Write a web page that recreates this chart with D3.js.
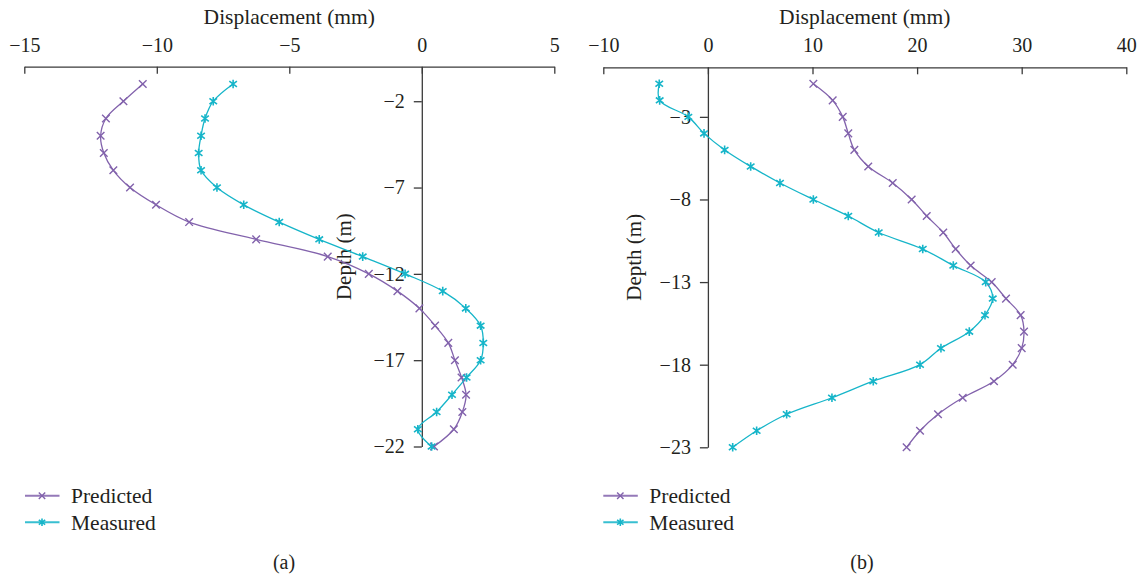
<!DOCTYPE html>
<html>
<head>
<meta charset="utf-8">
<script src="https://cdn.jsdelivr.net/npm/d3@7"></script>
<style>
  body { margin: 0; background: #fff; }
  svg text { font-family: "Liberation Serif", "DejaVu Serif", serif; fill: #231f20; }
</style>
</head>
<body>
<svg id="chart" width="1144" height="578"></svg>
<script>
// ---- Data (a) ----
const depthA = [-1,-2,-3,-4,-5,-6,-7,-8,-9,-10,-11,-12,-13,-14,-15,-16,-17,-18,-19,-20,-21,-22];
const predA  = [-10.53,-11.26,-11.92,-12.12,-12.0,-11.64,-11.01,-10.03,-8.78,-6.25,-3.55,-2.0,-0.92,-0.09,0.5,1.0,1.25,1.5,1.67,1.53,1.21,0.46];
const measA  = [-7.12,-7.87,-8.18,-8.33,-8.42,-8.33,-7.73,-6.72,-5.38,-3.87,-2.23,-0.63,0.79,1.66,2.22,2.32,2.22,1.69,1.14,0.56,-0.15,0.37];
const xTicksA = [-15,-10,-5,0,5];
const yTicksA = [-2,-7,-12,-17,-22];

// ---- Data (b) ----
const depthB = [-1,-2,-3,-4,-5,-6,-7,-8,-9,-10,-11,-12,-13,-14,-15,-16,-17,-18,-19,-20,-21,-22,-23];
const predB  = [10.08,11.93,12.89,13.42,14.0,15.33,17.67,19.48,20.92,22.5,23.69,25.12,27.13,28.5,29.9,30.22,30.0,29.14,27.35,24.36,22.0,20.28,19.0];
const measB  = [-4.65,-4.61,-1.87,-0.37,1.6,4.09,6.89,10.08,13.42,16.33,20.54,23.46,26.56,27.23,26.49,24.99,22.28,20.28,15.81,11.86,7.53,4.66,2.37];
const xTicksB = [-10,0,10,20,30,40];
const yTicksB = [-3,-8,-13,-18,-23];

const seriesNames = ["Predicted", "Measured"];
const colors = {Predicted: "#8262ac", Measured: "#16b5c9"};

const svg = d3.select("#chart");
const axisColor = "#3a3a3a";

function xMarker(g, x, y, c, s) {
  g.append("path").attr("d", `M${x-s},${y-s}L${x+s},${y+s}M${x-s},${y+s}L${x+s},${y-s}`)
    .attr("stroke", c).attr("stroke-width", 1.4).attr("fill", "none");
}
function starMarker(g, x, y, c, s) {
  g.append("path").attr("d", `M${x-s},${y-s*0.75}L${x+s},${y+s*0.75}M${x-s},${y+s*0.75}L${x+s},${y-s*0.75}M${x},${y-s-0.5}L${x},${y+s+0.5}`)
    .attr("stroke", c).attr("stroke-width", 1.6).attr("fill", "none");
}

function panel(opts) {
  const {xDomain, xRange, yDomain, yRange, xTicks, yTicks, depth, pred, meas, label, labelX, depthLabelX, legendX} = opts;
  const x = d3.scaleLinear().domain(xDomain).range(xRange);
  const y = d3.scaleLinear().domain(yDomain).range(yRange);
  const g = svg.append("g");

  // x axis at top, ticks pointing down
  const xa = g.append("g").attr("transform", `translate(0,${yRange[0]})`)
    .call(d3.axisBottom(x).tickValues(xTicks).tickSize(7).tickSizeOuter(0)
      .tickFormat(d => d < 0 ? "\u2212" + Math.abs(d) : d));
  xa.select(".domain").attr("stroke", axisColor).attr("stroke-width", 1.3);
  xa.selectAll(".tick line").attr("stroke", axisColor).attr("stroke-width", 1.3);
  xa.selectAll(".tick text").attr("y", -15).attr("dy", 0).attr("font-size", 20);

  // y axis at x=0
  const ya = g.append("g").attr("transform", `translate(${x(0)},0)`)
    .call(d3.axisLeft(y).tickValues(yTicks).tickSize(8).tickSizeOuter(0)
      .tickFormat(d => d < 0 ? "\u2212" + Math.abs(d) : d));
  ya.select(".domain").attr("stroke", axisColor).attr("stroke-width", 1.3);
  ya.selectAll(".tick line").attr("stroke", axisColor).attr("stroke-width", 1.3);
  ya.selectAll(".tick text").attr("x", -17).attr("font-size", 20);

  // titles
  g.append("text").attr("x", (xRange[0]+xRange[1])/2).attr("y", 24)
    .attr("text-anchor", "middle").attr("font-size", 21.5).text("Displacement (mm)");
  g.append("text").attr("transform", `translate(${depthLabelX},${(yRange[0]+yRange[1])/2}) rotate(-90)`)
    .attr("text-anchor", "middle").attr("dy", "0.35em").attr("font-size", 21).text("Depth (m)");

  const line = d3.line().curve(d3.curveCatmullRom.alpha(0.5));
  const ptsP = depth.map((d, i) => [x(pred[i]), y(d)]);
  const ptsM = depth.map((d, i) => [x(meas[i]), y(d)]);
  g.append("path").attr("d", line(ptsP)).attr("fill", "none").attr("stroke", colors.Predicted).attr("stroke-width", 1.3);
  g.append("path").attr("d", line(ptsM)).attr("fill", "none").attr("stroke", colors.Measured).attr("stroke-width", 1.3);
  ptsP.forEach(p => xMarker(g, p[0], p[1], colors.Predicted, 3.8));
  ptsM.forEach(p => starMarker(g, p[0], p[1], colors.Measured, 3.8));

  // legend
  seriesNames.forEach((name, i) => {
    const ly = 495.7 + i * 26.6;
    g.append("line").attr("x1", legendX).attr("x2", legendX + 34.5).attr("y1", ly).attr("y2", ly)
      .attr("stroke", colors[name]).attr("stroke-width", 2).attr("opacity", 0.85);
    if (name === "Predicted") xMarker(g, legendX + 17, ly, colors[name], 3.2);
    else starMarker(g, legendX + 17, ly, colors[name], 3.2);
    g.append("text").attr("x", legendX + 46).attr("y", ly).attr("dy", "0.35em")
      .attr("font-size", 21.5).text(name);
  });

  g.append("text").attr("x", labelX).attr("y", 562).attr("dy", "0.35em")
    .attr("text-anchor", "middle").attr("font-size", 20).text(label);
}

panel({xDomain: [-15, 5], xRange: [24.3, 554.3], yDomain: [0, -22], yRange: [66.7, 446.5],
  xTicks: xTicksA, yTicks: yTicksA, depth: depthA, pred: predA, meas: measA,
  label: "(a)", labelX: 284, depthLabelX: 343.3, legendX: 25});
panel({xDomain: [-10, 40], xRange: [603.3, 1126.3], yDomain: [0, -23], yRange: [67.3, 447.3],
  xTicks: xTicksB, yTicks: yTicksB, depth: depthB, pred: predB, meas: measB,
  label: "(b)", labelX: 862, depthLabelX: 634, legendX: 603.3});
</script>
</body>
</html>
